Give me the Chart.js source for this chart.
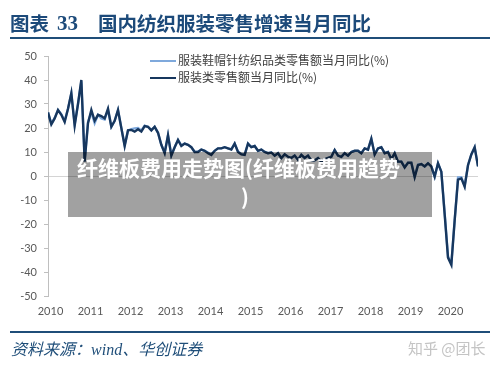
<!DOCTYPE html>
<html>
<head>
<meta charset="utf-8">
<script src="https://cdn.jsdelivr.net/npm/chart.js@4.4.0/dist/chart.umd.min.js"></script>
<style>
html,body{margin:0;padding:0;background:#fff;}
#wrap{position:relative;width:500px;height:369px;overflow:hidden;background:#fff;font-family:"Noto Sans CJK SC","Noto Sans",sans-serif;}
#c{position:absolute;left:0;top:0;}
.abs{position:absolute;white-space:nowrap;}
.t{color:#1c4a7a;font-weight:700;font-size:19.5px;line-height:26px;top:10px;}
.rule{position:absolute;left:10px;width:480px;height:2px;background:#1f4e79;}
.leg{font-size:12px;color:#404040;line-height:16px;left:178px;}
.sw{position:absolute;left:150px;width:26px;height:2px;}
.wm{position:absolute;left:68px;top:152px;width:364px;height:65px;background:rgba(0,0,0,0.37);}
.wt{color:#fff;font-weight:700;font-size:21px;line-height:28px;}
</style>
</head>
<body>
<div id="wrap">
  <canvas id="c" width="500" height="369"></canvas>
  <div class="abs t" style="left:10px;">图表</div>
  <div class="abs t" style="left:57px;font-family:'Liberation Serif',serif;font-size:21px;">33</div>
  <div class="abs t" style="left:98px;">国内纺织服装零售增速当月同比</div>
  <div class="rule" style="top:37px;"></div>

  <div class="sw" style="top:60px;background:#7fa9dc;"></div>
  <div class="abs leg" id="leg1" style="top:52px;"></div>
  <div class="sw" style="top:77px;background:#17375e;"></div>
  <div class="abs leg" id="leg2" style="top:69px;"></div>

  <div class="wm"></div>
  <div class="abs wt" style="left:77px;top:153px;">纤维板费用走势图(纤维板费用趋势</div>
  <div class="abs wt" style="left:241px;top:182px;">)</div>

  <div class="rule" style="top:331px;"></div>
  <div class="abs" style="left:11px;top:337px;font-size:16px;line-height:22px;color:#1f4e79;font-style:italic;">资料来源：<span style="font-family:'Liberation Serif',serif;">wind</span>、华创证券</div>
  <div class="abs" style="left:408px;top:338px;font-size:15px;line-height:20px;color:#c4c4c4;">知乎 @团长</div>
</div>
<script>
// ---- data (monthly, starting Feb 2010, ending Nov 2020) ----
const seriesNames = ['服装鞋帽针纺织品类零售额当月同比(%)', '服装类零售额当月同比(%)'];
const yearLabels = ['2010','2011','2012','2013','2014','2015','2016','2017','2018','2019','2020'];
const yTicks = [-50,-40,-30,-20,-10,0,10,20,30,40,50];

const apparelShoesTextiles = [
  26.5,21.8,24.2,27.5,25.8,23.0,28.0,34.5,21.5,30.0,39.5,6.5,
  22.5,26.5,22.0,25.5,24.0,23.5,27.5,20.5,23.0,27.5,20.0,12.8,
  19.0,19.5,19.8,20.0,19.0,21.0,20.5,19.2,20.5,18.0,13.0,9.8,
  17.0,8.8,12.0,15.0,12.8,13.5,13.0,12.0,10.0,10.2,11.0,10.5,
  9.8,9.0,10.5,11.5,11.5,12.0,11.5,11.2,13.5,10.2,9.2,9.0,
  13.5,12.0,12.5,10.5,11.0,10.0,9.5,9.8,8.5,9.5,7.5,9.0,
  8.0,7.5,8.5,6.8,8.8,7.5,8.5,6.5,6.5,7.5,6.0,7.0,
  7.5,8.0,10.8,8.5,8.0,9.5,8.5,10.0,10.5,10.5,9.5,11.5,
  11.0,15.5,9.0,11.5,12.0,9.5,10.0,7.0,9.5,6.0,6.0,3.8,
  5.5,5.5,-0.2,4.8,5.0,4.0,5.3,4.0,-0.3,5.3,1.8,-15.5,
  -33.5,-36.5,-18.5,-0.6,-0.5,-4.0,4.5,9.0,12.0,4.0
];
const apparelOnly = [
  26.5,21.5,24.0,27.5,25.5,22.5,28.0,34.5,21.0,30.0,40.0,6.0,
  22.0,27.5,23.0,25.5,25.0,24.0,28.0,20.5,23.0,27.5,20.0,12.5,
  19.0,19.2,18.5,19.5,18.5,20.8,20.5,19.0,20.5,18.0,13.0,9.5,
  17.0,8.5,12.0,15.0,12.5,13.5,13.0,12.0,10.0,10.0,11.0,10.5,
  9.5,8.8,10.5,11.5,11.5,12.0,11.5,11.0,13.5,10.0,9.0,8.8,
  13.5,12.0,12.5,10.5,11.0,10.0,9.5,9.8,8.5,9.5,7.5,9.0,
  8.0,7.5,8.5,6.8,8.8,7.5,8.5,6.5,6.5,7.5,6.0,7.0,
  7.5,8.0,10.8,8.5,8.0,9.5,8.5,10.0,10.5,10.5,9.5,11.5,
  11.0,15.5,9.0,11.5,12.0,9.5,10.0,7.0,9.5,6.0,6.0,3.5,
  5.5,5.5,-0.5,4.5,5.0,4.0,5.3,4.0,-0.3,5.3,1.8,-16.0,
  -34.0,-37.0,-18.5,-1.5,-1.0,-4.5,4.5,9.0,12.0,4.0
];

document.getElementById('leg1').textContent = seriesNames[0];
document.getElementById('leg2').textContent = seriesNames[1];

const toPoints = arr => arr.map((v, i) => ({x: i, y: v}));
const tickFont = {family: 'Lato, "Liberation Sans", sans-serif', size: 11};

new Chart(document.getElementById('c'), {
  type: 'line',
  data: {
    datasets: [
      {label: seriesNames[0], data: toPoints(apparelShoesTextiles), borderColor: '#7fa9dc', borderWidth: 2.3, pointRadius: 0, tension: 0, order: 2},
      {label: seriesNames[1], data: toPoints(apparelOnly), borderColor: '#17375e', borderWidth: 2.4, pointRadius: 0, tension: 0, order: 1}
    ]
  },
  options: {
    responsive: false,
    animation: false,
    devicePixelRatio: 1,
    layout: {padding: {top: 56, right: 22, bottom: 51, left: 0}},
    plugins: {legend: {display: false}, tooltip: {enabled: false}},
    scales: {
      x: {
        type: 'linear', min: 0, max: apparelOnly.length - 1,
        afterBuildTicks: a => { a.ticks = yearLabels.map((_, k) => ({value: 0.75 + 12 * k})); },
        ticks: {autoSkip: false, maxRotation: 0, color: '#595959', font: tickFont, padding: 9,
                callback: (v, i) => yearLabels[i]},
        grid: {display: false, drawTicks: false},
        border: {display: false},
        afterFit: s => { s.height = 22; }
      },
      y: {
        min: yTicks[0], max: yTicks[yTicks.length - 1],
        afterBuildTicks: a => { a.ticks = yTicks.map(v => ({value: v})); },
        ticks: {color: '#595959', font: tickFont, padding: 7},
        grid: {color: c => (c.tick && c.tick.value === 0) ? '#d4d4d4' : 'rgba(0,0,0,0)',
               tickColor: '#bfbfbf', tickLength: 4, lineWidth: 1},
        border: {display: true, color: '#bfbfbf', width: 1},
        afterFit: s => { s.width = 48; }
      }
    }
  }
});
</script>
</body>
</html>
